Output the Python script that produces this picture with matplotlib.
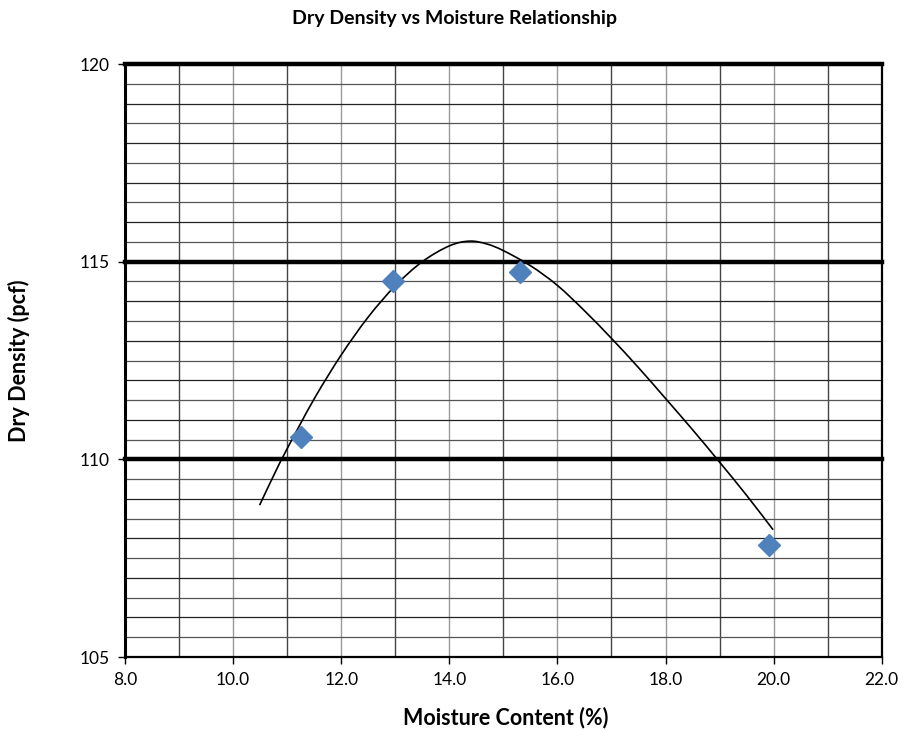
import matplotlib
matplotlib.use("Agg")
import matplotlib.pyplot as plt
from matplotlib.path import Path
from matplotlib.patches import PathPatch

plt.rcParams['font.family'] = ['Lato', 'DejaVu Sans']

# measured points
moisture = [11.25, 12.95, 15.31, 19.91]
density = [110.57, 114.52, 114.75, 107.83]

# trend line
curve_x = [10.49, 10.75, 11.0, 11.5, 12.0, 12.5, 13.0, 13.5, 14.0, 14.37,
           14.69, 15.0, 15.5, 16.0, 16.5, 17.0, 17.5, 18.0, 18.5, 19.0,
           19.5, 19.99]
curve_y = [108.84, 109.59, 110.27, 111.53, 112.64, 113.60, 114.39, 115.0, 115.40, 115.52,
           115.45, 115.28, 114.90, 114.40, 113.76, 113.06, 112.32, 111.54, 110.75, 109.93,
           109.09, 108.22]

x_ticks = [8, 10, 12, 14, 16, 18, 20, 22]
y_ticks = [105, 110, 115, 120]


def smooth_path(xs, ys):
    # Catmull-Rom style bezier through the read points (like Excel's smoothed line)
    pts = list(zip(xs, ys))
    verts = [pts[0]]
    codes = [Path.MOVETO]
    n = len(pts)
    for i in range(n - 1):
        p0 = pts[i - 1] if i > 0 else pts[i]
        p1 = pts[i]
        p2 = pts[i + 1]
        p3 = pts[i + 2] if i + 2 < n else pts[i + 1]
        c1 = (p1[0] + (p2[0] - p0[0]) / 6, p1[1] + (p2[1] - p0[1]) / 6)
        c2 = (p2[0] - (p3[0] - p1[0]) / 6, p2[1] - (p3[1] - p1[1]) / 6)
        verts += [c1, c2, p2]
        codes += [Path.CURVE4] * 3
    return Path(verts, codes)


fig = plt.figure(figsize=(9.09, 7.31), dpi=100)
ax = fig.add_axes([0.1375, 0.1012, 0.8325, 0.8112])

ax.set_xlim(8, 22)
ax.set_ylim(105, 120)

# grid
for i in range(9, 22):
    ax.axvline(i, color='#444444' if i % 2 else '#9a9a9a', lw=1.0, zorder=1)
for k in range(1, 30):
    if k % 10 == 0:
        continue
    ax.axhline(105 + k * 0.5, color='#555555' if k % 2 else '#222222', lw=0.9, zorder=1)
for yv in [110, 115, 120]:
    ax.axhline(yv, color='black', lw=3.2, zorder=2, clip_on=False)

ax.add_patch(PathPatch(smooth_path(curve_x, curve_y), facecolor='none',
                       edgecolor='black', lw=1.2, zorder=3))
ax.plot(moisture, density, linestyle='none', marker='D', markersize=11,
        color='#4f81bd', zorder=4)

ax.set_xticks(x_ticks)
ax.set_xticklabels([f"{v:.1f}" for v in x_ticks])
ax.set_yticks(y_ticks)
ax.tick_params(axis='both', direction='out', length=5, width=1, labelsize=12.5, pad=6)

ax.spines['top'].set_visible(False)
ax.spines['left'].set_linewidth(2.2)
ax.spines['bottom'].set_linewidth(1.6)
ax.spines['right'].set_linewidth(1.6)

fig.text(0.5, 0.975, "Dry Density vs Moisture Relationship", fontsize=14,
         fontweight='bold', ha='center', va='center')
fig.text(506 / 909, 1 - 718 / 731, "Moisture Content (%)", fontsize=15.5,
         fontweight='bold', ha='center', va='center')
fig.text(19 / 909, 1 - 361 / 731, "Dry Density (pcf)", fontsize=15.5,
         fontweight='bold', ha='center', va='center', rotation=90)

fig.savefig("out.png", dpi=100)
